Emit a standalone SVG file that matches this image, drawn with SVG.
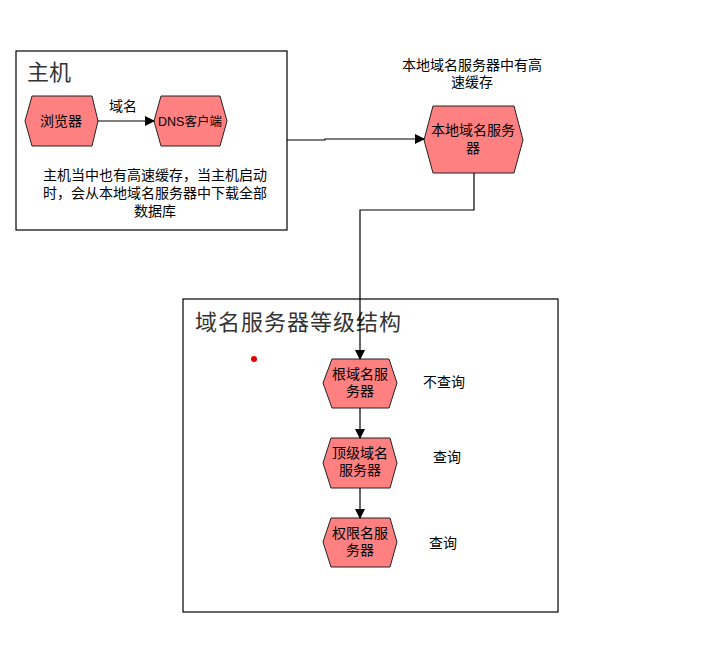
<svg xmlns="http://www.w3.org/2000/svg" width="714" height="661" viewBox="0 0 714 661">
<style>
text{font-family:"Liberation Sans","Noto Sans CJK SC",sans-serif;fill:#000}
.hex{fill:#FF8080;stroke:#222;stroke-width:1}
.box{fill:#fff;stroke:#000;stroke-width:1.2}
.t{font-size:14px;text-anchor:middle}
.title{font-size:22px;fill:#333}
.conn{fill:none;stroke:#000;stroke-width:1.2}
</style>
<defs>
<marker id="arr" markerWidth="10" markerHeight="10" refX="9" refY="5" orient="auto" markerUnits="userSpaceOnUse">
<path d="M0,0 L10,5 L0,10 z" fill="#000"/>
</marker>
</defs>
<rect width="714" height="661" fill="#fff"/>
<g id="host">
<rect class="box" x="16" y="51" width="271" height="179"/>
<text class="title" x="27" y="80">主机</text>
<text class="t" x="155" y="180">主机当中也有高速缓存，当主机启动</text>
<text class="t" x="155" y="198">时，会从本地域名服务器中下载全部</text>
<text class="t" x="155" y="216">数据库</text>
</g>
<g id="hierarchy">
<rect class="box" x="183" y="299" width="375" height="313"/>
<text class="title" x="195" y="330" style="letter-spacing:1px">域名服务器等级结构</text>
<circle cx="254" cy="359" r="3" fill="#e00000"/>
</g>
<g id="browser">
<polygon class="hex" points="25,121 32,96 92,96 98,121 92,146 32,146"/>
<text class="t" x="61" y="126">浏览器</text>
</g>
<g id="dnsclient">
<polygon class="hex" points="154,121 161,96 220,96 227,121 220,146 161,146"/>
<text class="t" x="190" y="126" style="font-size:12.5px">DNS客户端</text>
</g>
<g id="localdns">
<polygon class="hex" points="424,140 433,106 514,106 523,140 514,173 433,173"/>
<text class="t" x="473" y="135">本地域名服务</text>
<text class="t" x="473" y="153">器</text>
</g>
<g id="root">
<polygon class="hex" points="323,383 332,359 389,359 397,383 389,408 332,408"/>
<text class="t" x="360" y="379">根域名服</text>
<text class="t" x="360" y="396">务器</text>
</g>
<g id="tld">
<polygon class="hex" points="323,463 331,438 390,438 397,463 390,488 331,488"/>
<text class="t" x="360" y="458">顶级域名</text>
<text class="t" x="360" y="475">服务器</text>
</g>
<g id="auth">
<polygon class="hex" points="323,542 331,518 390,518 397,542 390,567 331,567"/>
<text class="t" x="360" y="538">权限名服</text>
<text class="t" x="360" y="555">务器</text>
</g>
<g id="labels">
<text class="t" x="472" y="70">本地域名服务器中有高</text>
<text class="t" x="472" y="87">速缓存</text>
<text class="t" x="444" y="387">不查询</text>
<text class="t" x="447" y="462">查询</text>
<text class="t" x="443" y="548">查询</text>
</g>
<g id="connectors">
<line class="conn" x1="98" y1="121" x2="154" y2="121" marker-end="url(#arr)"/>
<text class="t" x="123" y="111">域名</text>
<polyline class="conn" points="287,140 325,140 325,139 424,139" marker-end="url(#arr)"/>
<polyline class="conn" points="474,173 474,210 360,210 360,359" marker-end="url(#arr)"/>
<line class="conn" x1="360" y1="408" x2="360" y2="438" marker-end="url(#arr)"/>
<line class="conn" x1="360" y1="488" x2="360" y2="518" marker-end="url(#arr)"/>
</g>
</svg>
